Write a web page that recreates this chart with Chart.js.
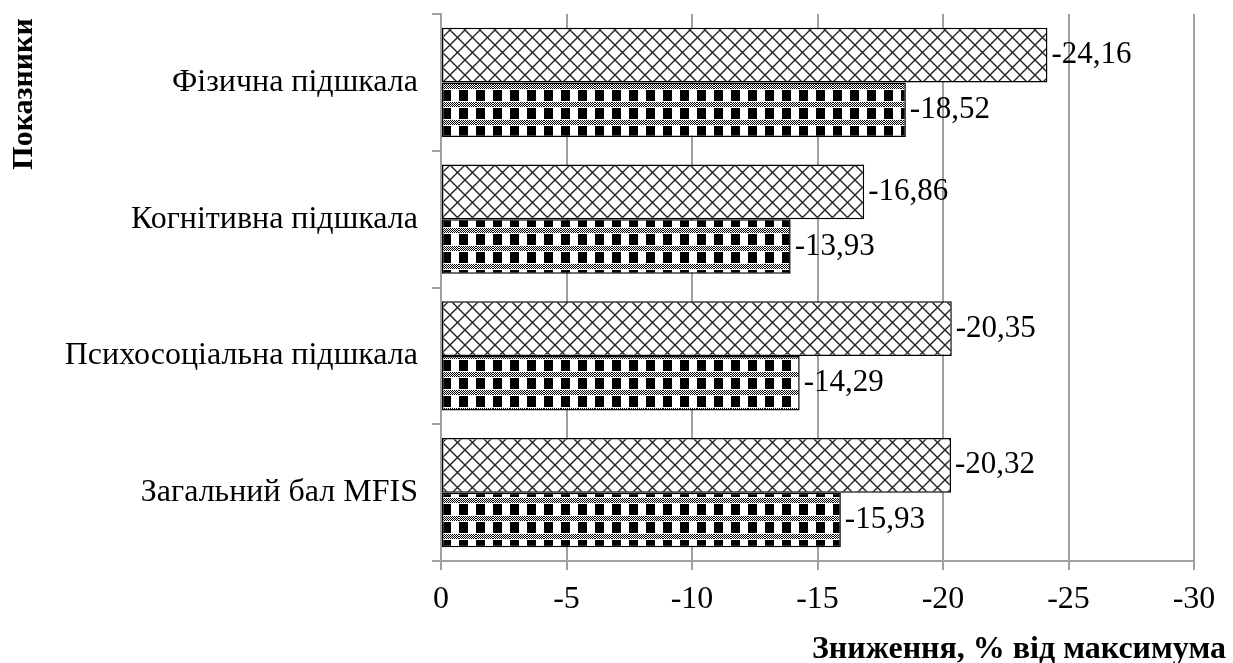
<!DOCTYPE html>
<html>
<head>
<meta charset="utf-8">
<script src="https://cdn.jsdelivr.net/npm/chart.js@4"></script>
<style>
  html, body { margin: 0; padding: 0; background: #fff; }
  #wrap { width: 1233px; height: 663px; position: relative; }
</style>
</head>
<body>
<div id="wrap"><canvas id="chart"></canvas></div>
<script>
const categories = ['Фізична підшкала', 'Когнітивна підшкала', 'Психосоціальна підшкала', 'Загальний бал MFIS'];
const seriesHatch = [-24.16, -16.86, -20.35, -20.32];
const seriesCheck = [-18.52, -13.93, -14.29, -15.93];
const xTicks = [0, -5, -10, -15, -20, -25, -30];
const xTitle = 'Зниження, % від максимума';
const yTitle = 'Показники';

const FONT = '"Liberation Serif", "Times New Roman", serif';
const GRID = '#a0a0a0';

function formatValue(v) {
  return v.toFixed(2).replace('.', ',');
}

// diagonal lattice, white background
function hatchPattern() {
  const s = 15;
  const c = document.createElement('canvas');
  c.width = s; c.height = s;
  const g = c.getContext('2d');
  g.fillStyle = '#fff';
  g.fillRect(0, 0, s, s);
  g.strokeStyle = '#222';
  g.lineWidth = 1.4;
  g.beginPath();
  g.moveTo(0, 0); g.lineTo(s, s);
  g.moveTo(s, 0); g.lineTo(0, s);
  g.stroke();
  return g.createPattern(c, 'repeat');
}

// black/white blocks with a fine dotted band
function checkPattern() {
  const w = 17, h = 18;
  const c = document.createElement('canvas');
  c.width = w; c.height = h;
  const g = c.getContext('2d');
  g.fillStyle = '#fff';
  g.fillRect(0, 0, w, h);
  g.fillStyle = '#000';
  g.fillRect(0, 0, 9, 11);
  for (let y = 12; y < 17; y++) {
    for (let x = 0; x < w; x++) {
      if ((x + y) % 2 === 0) g.fillRect(x, y, 1, 1);
    }
  }
  return g.createPattern(c, 'repeat');
}

const labelPlugin = {
  id: 'barLabels',
  afterDatasetsDraw(chart) {
    const ctx = chart.ctx;
    ctx.save();
    ctx.fillStyle = '#000';
    ctx.font = '31px ' + FONT;
    ctx.textBaseline = 'middle';
    ctx.textAlign = 'left';
    chart.data.datasets.forEach((ds, i) => {
      chart.getDatasetMeta(i).data.forEach((bar, j) => {
        ctx.fillText(formatValue(ds.data[j]), bar.x + 4, bar.y);
      });
    });
    ctx.font = 'bold 32px ' + FONT;
    ctx.textAlign = 'right';
    ctx.textBaseline = 'alphabetic';
    ctx.fillText(xTitle, chart.width - 7, chart.height - 5);
    ctx.font = 'bold 30px ' + FONT;
    ctx.translate(24, 94);
    ctx.rotate(-Math.PI / 2);
    ctx.textAlign = 'center';
    ctx.textBaseline = 'middle';
    ctx.fillText(yTitle, 0, 0);
    ctx.restore();
  }
};

const chart = new Chart(document.getElementById('chart'), {
  type: 'bar',
  data: {
    labels: categories,
    datasets: [
      {
        data: seriesHatch,
        backgroundColor: hatchPattern(),
        borderColor: '#000',
        borderWidth: 1.5,
        borderSkipped: false,
      },
      {
        data: seriesCheck,
        backgroundColor: checkPattern(),
        borderColor: '#000',
        borderWidth: 1.5,
        borderSkipped: false,
      },
    ],
  },
  options: {
    indexAxis: 'y',
    responsive: true,
    maintainAspectRatio: false,
    animation: false,
    layout: { padding: { left: 0, top: 14, right: 39, bottom: 0 } },
    plugins: { legend: { display: false }, tooltip: { enabled: false } },
    datasets: { bar: { categoryPercentage: 0.8, barPercentage: 1 } },
    scales: {
      x: {
        type: 'linear',
        min: -30,
        max: 0,
        reverse: true,
        afterBuildTicks: (scale) => {
          scale.ticks = xTicks.map((v) => ({ value: v }));
        },
        afterFit: (scale) => {
          scale.height = 102;
          scale.paddingLeft = 0;
          scale.paddingRight = 0;
        },
        ticks: {
          color: '#000',
          font: { family: FONT, size: 32 },
          padding: 10,
          maxRotation: 0,
          callback: (v) => String(v),
        },
        grid: { color: GRID, lineWidth: 2, tickLength: 9 },
        border: { color: GRID, width: 2 },
      },
      y: {
        afterFit: (scale) => {
          scale.width = 441;
          scale.paddingTop = 0;
          scale.paddingBottom = 0;
        },
        ticks: {
          color: '#000',
          font: { family: FONT, size: 32 },
          padding: 14,
        },
        grid: { drawOnChartArea: false, color: GRID, lineWidth: 2, tickLength: 9 },
        border: { color: GRID, width: 2 },
      },
    },
  },
  plugins: [labelPlugin],
});
</script>
</body>
</html>
